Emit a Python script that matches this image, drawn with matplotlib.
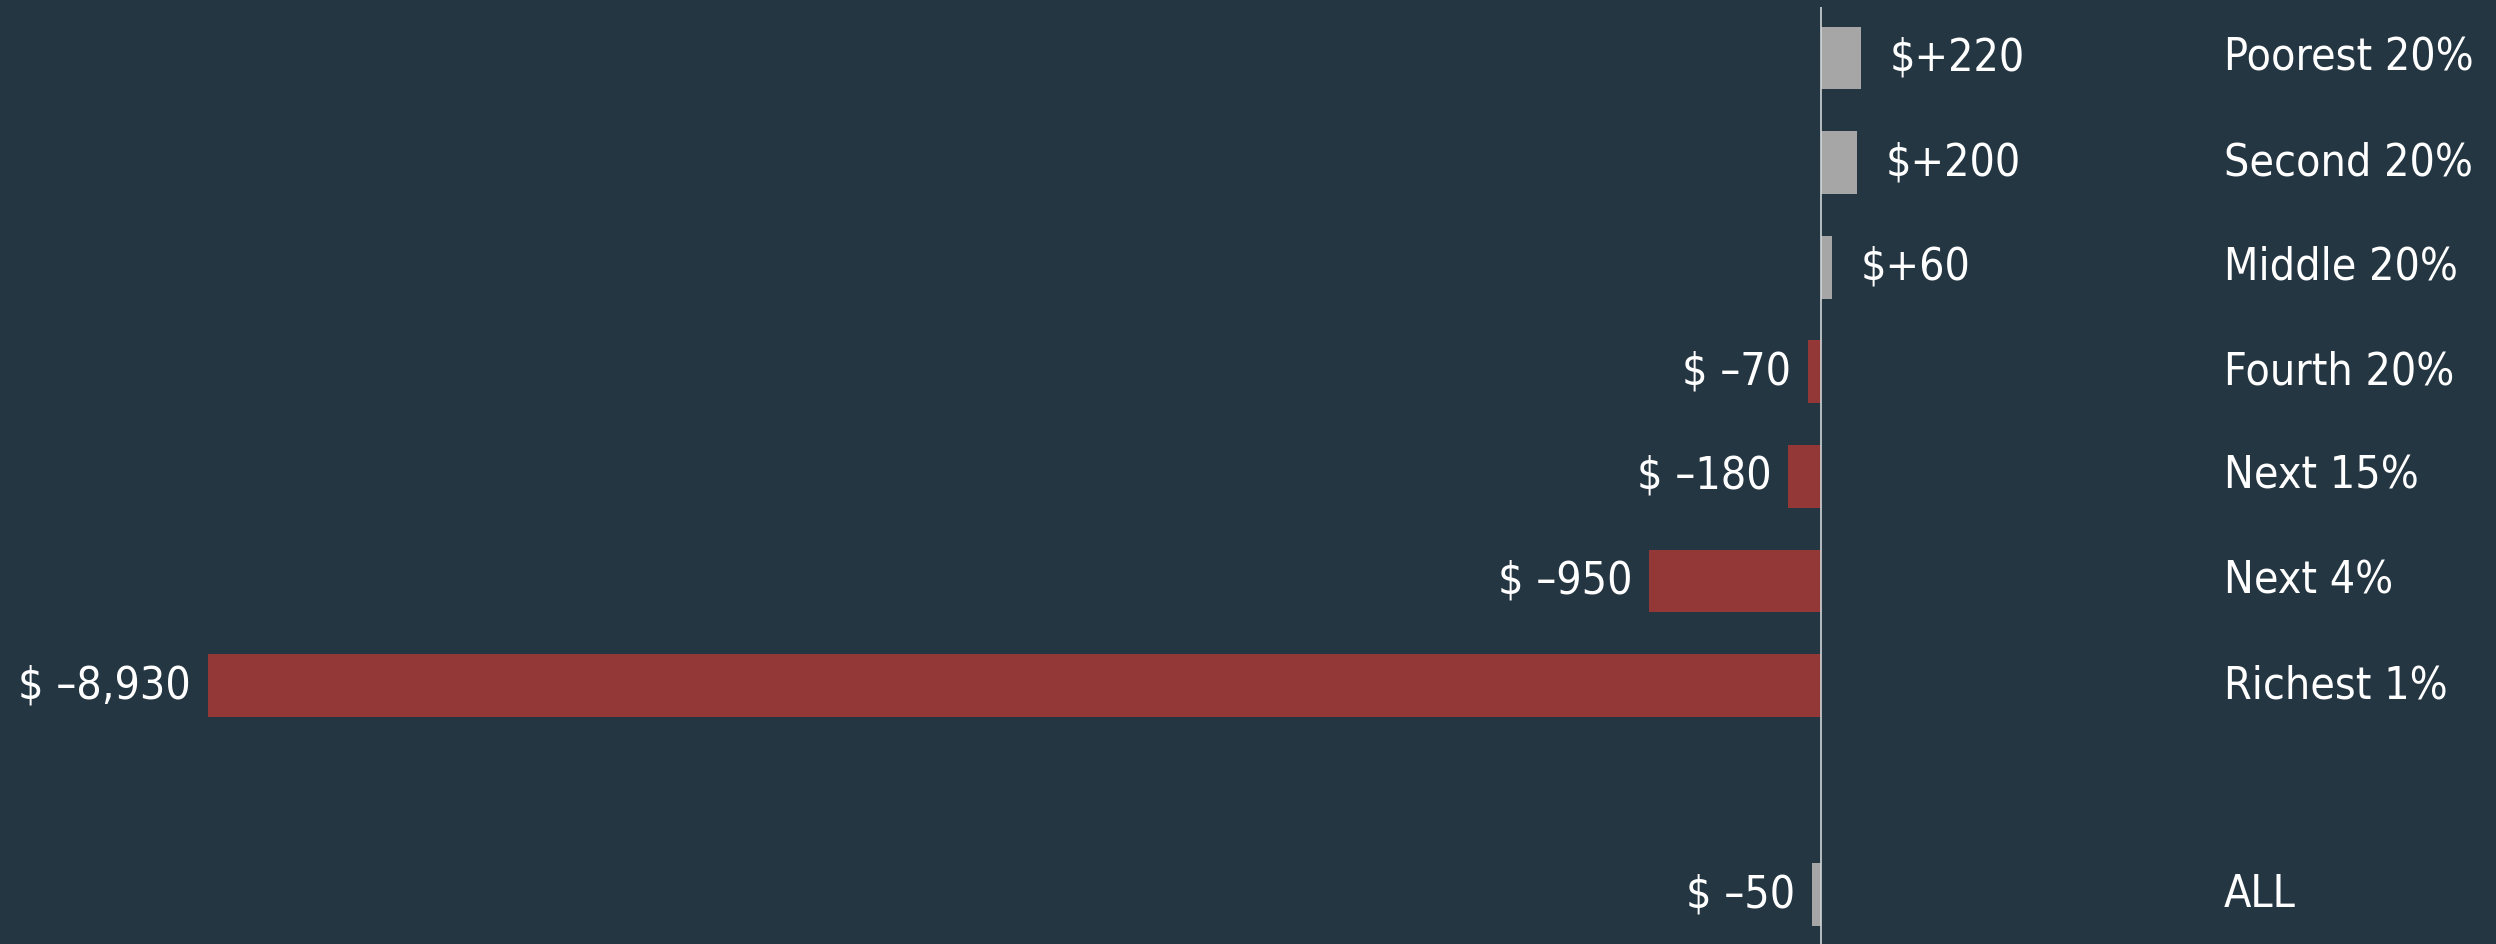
import matplotlib.pyplot as plt
import matplotlib.transforms as mtransforms
from matplotlib import font_manager as fm

# Data
groups = ['Poorest 20%', 'Second 20%', 'Middle 20%', 'Fourth 20%',
          'Next 15%', 'Next 4%', 'Richest 1%', 'ALL']
changes = [220, 200, 60, -70, -180, -950, -8930, -50]
rows = [0, 1, 2, 3, 4, 5, 6, 8]

BG = '#243642'
GRAY = '#a6a6a6'
RED = '#943737'

# pick a narrow face if one is installed, else Roboto at a smaller size
narrow = [f for f in fm.fontManager.ttflist
          if ('Narrow' in f.name or 'Condensed' in f.name
              or str(f.stretch) in ('condensed', 'semi-condensed', '75', '87'))
          and f.style == 'normal' and f.weight in (400, 'normal', 'regular')]
if narrow:
    font = fm.FontProperties(fname=narrow[0].fname)
    fsize = 32
else:
    font = fm.FontProperties(family='Roboto')
    fsize = 28
font.set_size(fsize)

fig = plt.figure(figsize=(24.96, 9.44), dpi=100, facecolor=BG)
ax = fig.add_axes([0, 0, 1, 1], facecolor=BG)

colors = []
for g, v in zip(groups, changes):
    if v < 0 and g != 'ALL':
        colors.append(RED)
    else:
        colors.append(GRAY)

ax.barh(rows, changes, height=0.6, color=colors, zorder=2)
ax.vlines(0, -0.49, 8.6, color='#d0d5d8', linewidth=1.2, zorder=3)

pad_pos = 160
pad_neg = 95
trans = mtransforms.blended_transform_factory(ax.transAxes, ax.transData)
for r, v, g in zip(rows, changes, groups):
    if v >= 0:
        ax.text(v + pad_pos, r, f'$+{v:,}', color='white', fontproperties=font,
                ha='left', va='center')
    else:
        ax.text(v - pad_neg, r, f'$ \u2013{abs(v):,}', color='white',
                fontproperties=font, ha='right', va='center')
    ax.text(0.891, r, g, color='white', fontproperties=font, ha='left',
            va='center', transform=trans)

ax.set_xlim(-10084, 3738)
ax.set_ylim(8.47, -0.555)
ax.axis('off')

fig.savefig('out.png', dpi=100, facecolor=BG)
